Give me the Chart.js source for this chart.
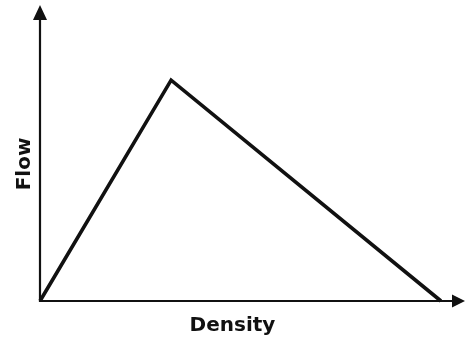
<!DOCTYPE html>
<html>
<head>
<meta charset="utf-8">
<script src="https://cdn.jsdelivr.net/npm/chart.js@4/dist/chart.umd.min.js"></script>
<style>
html, body { margin: 0; padding: 0; background: #ffffff; }
#wrap { width: 466px; height: 337px; position: relative; }
</style>
</head>
<body>
<div id="wrap"><canvas id="c"></canvas></div>
<script>
// Data (triangular fundamental diagram)
const density = [0, 0.327, 1];      // x values (relative density)
const flow = [0, 1, 0];             // y values (relative flow)
const densityAxisMax = 1.06;        // axis extent (arrow tip)
const flowAxisMax = 1.34;
const xLabel = 'Density';
const yLabel = 'Flow';

const ink = '#111111';

const axesPlugin = {
  id: 'arrowAxes',
  beforeDatasetsDraw(chart) {
    const ctx = chart.ctx;
    const xs = chart.scales.x, ys = chart.scales.y;
    const x0 = xs.getPixelForValue(0);
    const y0 = ys.getPixelForValue(0);
    const xTip = xs.getPixelForValue(densityAxisMax);
    const yTip = ys.getPixelForValue(flowAxisMax);
    ctx.save();
    ctx.strokeStyle = ink;
    ctx.fillStyle = ink;
    ctx.lineWidth = 2.2;
    ctx.lineCap = 'butt';
    // y axis
    ctx.beginPath();
    ctx.moveTo(x0, y0 + 1);
    ctx.lineTo(x0, yTip + 10);
    ctx.stroke();
    // x axis
    ctx.beginPath();
    ctx.moveTo(x0 - 1, y0);
    ctx.lineTo(xTip - 8, y0);
    ctx.stroke();
    // y arrow head
    ctx.beginPath();
    ctx.moveTo(x0, yTip);
    ctx.lineTo(x0 - 7, yTip + 15);
    ctx.lineTo(x0 + 7, yTip + 15);
    ctx.closePath();
    ctx.fill();
    // x arrow head
    ctx.beginPath();
    ctx.moveTo(xTip, y0);
    ctx.lineTo(xTip - 13, y0 - 6.5);
    ctx.lineTo(xTip - 13, y0 + 6.5);
    ctx.closePath();
    ctx.fill();
    ctx.restore();
  }
};

const points = density.map((d, i) => ({ x: d, y: flow[i] }));

new Chart(document.getElementById('c'), {
  type: 'scatter',
  data: {
    datasets: [{
      data: points,
      showLine: true,
      borderColor: ink,
      borderWidth: 3.6,
      borderJoinStyle: 'miter',
      pointRadius: 0,
      pointHoverRadius: 0,
      tension: 0,
      fill: false,
      clip: false
    }]
  },
  options: {
    responsive: true,
    maintainAspectRatio: false,
    animation: false,
    devicePixelRatio: 1,
    layout: { padding: { left: 0, right: 1, top: 5, bottom: 14 } },
    scales: {
      x: { type: 'linear', min: 0, max: densityAxisMax, display: false },
      y: { type: 'linear', min: 0, max: flowAxisMax, display: false }
    },
    plugins: {
      legend: { display: false },
      tooltip: { enabled: false },
      title: {
        display: true,
        text: xLabel,
        position: 'bottom',
        align: 'center',
        color: ink,
        font: { family: 'DejaVu Sans', size: 20, weight: 'bold', lineHeight: 1 },
        padding: { top: 15, bottom: -13 }
      },
      subtitle: {
        display: true,
        text: yLabel,
        position: 'left',
        align: 'center',
        color: ink,
        font: { family: 'DejaVu Sans', size: 20, weight: 'bold', lineHeight: 1 },
        padding: { top: 15, bottom: 5 }
      }
    }
  },
  plugins: [axesPlugin]
});
</script>
</body>
</html>
